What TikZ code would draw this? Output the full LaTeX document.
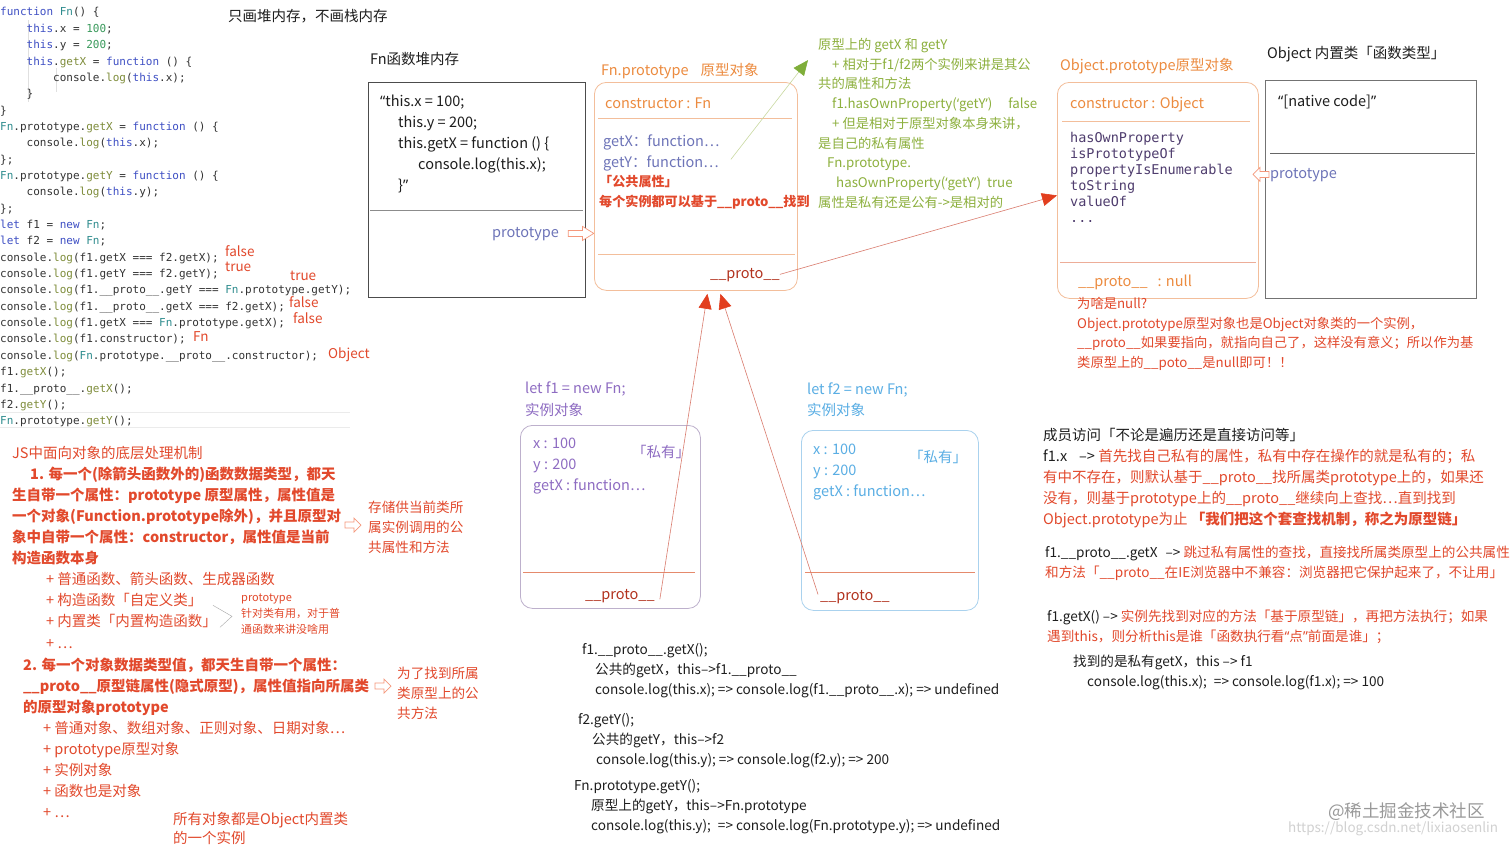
\documentclass[tikz,border=0pt]{standalone}
\usepackage{fontspec}
\setmainfont{Noto Sans CJK SC}
\setmonofont{DejaVu Sans Mono}
\newfontfamily\latinq{Noto Sans}
\usetikzlibrary{arrows.meta}

\definecolor{redtxt}{HTML}{E2492C}
\definecolor{darkred}{HTML}{B2321E}
\definecolor{orangetxt}{HTML}{EC8B3F}
\definecolor{orangeedge}{HTML}{F3BE9B}
\definecolor{greentxt}{HTML}{8DB03E}
\definecolor{greenhead}{HTML}{7FAE3A}
\definecolor{greenline}{HTML}{C9D9A0}
\definecolor{slate}{HTML}{6D74B8}
\definecolor{purpletxt}{HTML}{8E6CC2}
\definecolor{purpleedge}{HTML}{BDB0CC}
\definecolor{bluetxt}{HTML}{5AAEE4}
\definecolor{blueedge}{HTML}{AAD2EE}
\definecolor{linered}{HTML}{DA7C6E}
\definecolor{headred}{HTML}{E23E1E}
\definecolor{divred}{HTML}{E58A6C}
\definecolor{listpurple}{HTML}{4F3D6E}
\definecolor{kwc}{HTML}{3E4FC4}
\definecolor{numc}{HTML}{3A9A5C}
\definecolor{mthc}{HTML}{7E8C3A}
\definecolor{clsc}{HTML}{2E8C8E}
\definecolor{codec}{HTML}{333333}
\definecolor{textc}{HTML}{1E1E1E}

% code colouring
\newcommand{\jskw}[1]{\textcolor{kwc}{#1}}
\newcommand{\jsnum}[1]{\textcolor{numc}{#1}}
\newcommand{\jsfn}[1]{\textcolor{mthc}{#1}}
\newcommand{\jscls}[1]{\textcolor{clsc}{#1}}
\newcommand{\jsind}{\hspace*{26.5pt}}
% narrow quotes
\newcommand{\qopen}{{\latinq ‘}}
\newcommand{\qclose}{{\latinq ’}}
\newcommand{\dqopen}{{\latinq “}}
\newcommand{\dqclose}{{\latinq ”}}

\tikzset{
  txt/.style={anchor=north west, inner sep=0pt, align=left, yshift=-3pt, execute at begin node=\strut},
  bodytxt/.style={txt, font=\fontsize{14.5}{21}\selectfont},
  subtxt/.style={txt, font=\fontsize{13.6}{20}\selectfont},
  notetxt/.style={txt, font=\fontsize{13.3}{19.7}\selectfont},
  codetxt/.style={txt, font=\ttfamily\fontsize{11}{16.35}\selectfont, text=codec},
  anntxt/.style={anchor=west, inner sep=0pt, text=redtxt, font=\fontsize{13.5}{16}\selectfont},
  heapbox/.style={anchor=north west, draw=black!70, line width=0.8pt, inner sep=0pt},
  roundbox/.style={anchor=north west, rounded corners=12pt, line width=0.8pt, inner sep=0pt},
  protoline/.style={draw=linered, line width=0.6pt, -{Triangle[length=15pt,width=13pt,color=headred]}},
  hollowarrow/.pic={\draw[draw=orangeedge!80!red, line width=0.7pt, fill=white] (0,-3) -- (9,-3) -- (9,-7) -- (16,0) -- (9,7) -- (9,3) -- (0,3) -- cycle;},
}

\begin{document}
\begin{tikzpicture}[x=1pt, y=-1pt]
  \fill[white] (0,0) rectangle (1512,846);
  \useasboundingbox (0,0) rectangle (1512,846);

  % source code
  \draw[black!12] (28,20) -- (28,102);
  \draw[black!12] (56,68) -- (56,92);
  \draw[black!8] (0,412) -- (350,412);
  \draw[black!8] (0,427) -- (350,427);
  \node[codetxt] (jscode) at (0,4.4) {\jskw{function} \jscls{Fn}() \{\\
\jsind\jskw{this}.x = \jsnum{100};\\
\jsind\jskw{this}.y = \jsnum{200};\\
\jsind\jskw{this}.\jsfn{getX} = \jskw{function} () \{\\
\jsind\jsind console.\jsfn{log}(\jskw{this}.x);\\
\jsind\}\\
\}\\
\jscls{Fn}.prototype.\jsfn{getX} = \jskw{function} () \{\\
\jsind console.\jsfn{log}(\jskw{this}.x);\\
\};\\
\jscls{Fn}.prototype.\jsfn{getY} = \jskw{function} () \{\\
\jsind console.\jsfn{log}(\jskw{this}.y);\\
\};\\
\jskw{let} f1 = \jskw{new} \jscls{Fn};\\
\jskw{let} f2 = \jskw{new} \jscls{Fn};\\
console.\jsfn{log}(f1.getX === f2.getX);\\
console.\jsfn{log}(f1.getY === f2.getY);\\
console.\jsfn{log}(f1.\_\_proto\_\_.getY === \jscls{Fn}.prototype.getY);\\
console.\jsfn{log}(f1.\_\_proto\_\_.getX === f2.getX);\\
console.\jsfn{log}(f1.getX === \jscls{Fn}.prototype.getX);\\
console.\jsfn{log}(f1.constructor);\\
console.\jsfn{log}(\jscls{Fn}.prototype.\_\_proto\_\_.constructor);\\
f1.\jsfn{getX}();\\
f1.\_\_proto\_\_.\jsfn{getX}();\\
f2.\jsfn{getY}();\\
\jscls{Fn}.prototype.\jsfn{getY}();};

  \node[anntxt] (res1) at (225,251) {false};
  \node[anntxt] (res2) at (225,267) {true};
  \node[anntxt] (res3) at (290,276) {true};
  \node[anntxt] (res4) at (289,302) {false};
  \node[anntxt] (res5) at (293,318) {false};
  \node[anntxt] (res6) at (193,337) {Fn};
  \node[anntxt] (res7) at (328,355) {Object};

  \node[bodytxt, text=textc] (title) at (228,3.7) {只画堆内存，不画栈内存};

  % Fn heap
  \node[bodytxt, text=textc] (heaptitle) at (370,46.7) {Fn函数堆内存};
  \node[heapbox, minimum width=217pt, minimum height=215pt] (fnheap) at (368,82) {};
  \draw[black!45] (370,210) -- (583,210);
  \node[bodytxt, text=textc] (heapcode) at (380,91.7) {\dqopen this.x = 100;\\
\hspace*{18pt}this.y = 200;\\
\hspace*{18pt}this.getX = function () \{\\
\hspace*{38pt}console.log(this.x);\\
\hspace*{18pt}\}\dqclose};
  \node[bodytxt, text=slate] (heapprotolbl) at (492,219.7) {prototype};
  \pic[xscale=1.6] at ([xshift=9pt]heapprotolbl.east) {hollowarrow};

  % Fn.prototype
  \node[bodytxt, text=orangetxt] (fnprototitle) at (601,57.7) {Fn.prototype\hspace{12pt}原型对象};
  \node[roundbox, draw=orangeedge, minimum width=203pt, minimum height=208pt] (fnproto) at (594,82) {};
  \draw[orangeedge] (598,118) -- (792,118);
  \draw[orangeedge] (598,254) -- (795,254);
  \node[bodytxt, text=orangetxt] (fnctor) at (605,90.7) {constructor : Fn};
  \node[bodytxt, text=slate] (getx) at (603,128.7) {getX：function…};
  \node[bodytxt, text=slate] (gety) at (603,149.7) {getY：function…};
  \node[txt, font=\fontsize{13.1}{20}\selectfont, text=redtxt] (pubnote) at (599,172.1) {\textbf{「公共属性」}\\
\textbf{每个实例都可以基于\_\_proto\_\_找到}};
  \node[bodytxt, text=darkred] (fnprotoptr) at (710,260.7) {\_\_proto\_\_};

  % note on getX / getY
  \node[notetxt, text=greentxt] (greennote) at (818,35.1) {原型上的 getX 和 getY\\
\hspace*{14pt}+ 相对于f1/f2两个实例来讲是其公\\
共的属性和方法\\
\hspace*{14pt}f1.hasOwnProperty(\qopen getY\qclose)\hspace{16pt}false\\
\hspace*{14pt}+ 但是相对于原型对象本身来讲，\\
是自己的私有属性\\
\hspace*{9pt}Fn.prototype.\\
\hspace*{18pt}hasOwnProperty(\qopen getY\qclose)\hspace{6pt}true\\
属性是私有还是公有->是相对的};
  \draw[draw=greenline, line width=0.6pt, -{Triangle[length=15pt,width=13pt,color=greenhead]}] ([shift={(12pt,4pt)}]gety.east) -- ([shift={(-10pt,-22pt)}]greennote.north west);

  % Object.prototype
  \node[bodytxt, text=orangetxt] (objprototitle) at (1060,52.7) {Object.prototype原型对象};
  \node[roundbox, draw=orangeedge, minimum width=201pt, minimum height=216pt] (objproto) at (1057,82) {};
  \draw[orangeedge] (1062,121) -- (1250,121);
  \draw[divred!70] (1060,262) -- (1256,262);
  \node[bodytxt, text=orangetxt] (objctor) at (1070,90.7) {constructor : Object};
  \node[txt, font=\ttfamily\fontsize{13.5}{16}\selectfont, text=listpurple] (objmethods) at (1070,129.2) {hasOwnProperty\\
isPrototypeOf\\
propertyIsEnumerable\\
toString\\
valueOf\\
...};
  \node[bodytxt, text=orangetxt] (objnull) at (1078,268.7) {\_\_proto\_\_\hspace{10pt}: null};
  \draw[protoline] (fnprotoptr.east) -- ([yshift=-5pt]objproto.west);

  \node[notetxt, text=redtxt] (nullnote) at (1077,294.1) {为啥是null?\\
Object.prototype原型对象也是Object对象类的一个实例，\\
\_\_proto\_\_如果要指向，就指向自己了，这样没有意义；所以作为基\\
类原型上的\_\_poto\_\_是null即可！！};

  % Object
  \node[bodytxt, text=textc] (objtitle) at (1267,40.7) {Object 内置类「函数类型」};
  \node[heapbox, draw=black!55, minimum width=211pt, minimum height=218pt] (objfn) at (1265,80) {};
  \draw[black!60] (1270,153) -- (1475,153);
  \node[bodytxt, text=textc] (native) at (1278,88.7) {\dqopen[native code]\dqclose};
  \node[bodytxt, text=slate] (objprotolbl) at (1270,160.7) {prototype};
  \pic[xscale=-1] at ([xshift=-1pt]objprotolbl.west) {hollowarrow};

  % instance f1
  \node[bodytxt, text=purpletxt] (f1title) at (525,378.7) {let f1 = new Fn;\\[1pt]
实例对象};
  \node[roundbox, draw=purpleedge, minimum width=180pt, minimum height=183pt] (f1box) at (520,425) {};
  \draw[divred] (523,572) -- (695,572);
  \node[bodytxt, text=purpletxt] (f1props) at (533,434.7) {x : 100\\
y : 200\\
getX : function…};
  \node[bodytxt, text=purpletxt] (f1own) at (632,439.7) {「私有」};
  \node[bodytxt, text=darkred] (f1proto) at (585,581.7) {\_\_proto\_\_};

  % instance f2
  \node[bodytxt, text=bluetxt] (f2title) at (807,379.7) {let f2 = new Fn;\\
实例对象};
  \node[roundbox, draw=blueedge, minimum width=177pt, minimum height=180pt] (f2box) at (801,430) {};
  \draw[divred] (805,572) -- (975,572);
  \node[bodytxt, text=bluetxt] (f2props) at (813,440.7) {x : 100\\
y : 200\\
getX : function…};
  \node[bodytxt, text=bluetxt] (f2own) at (909,444.7) {「私有」};
  \node[bodytxt, text=darkred] (f2proto) at (820,582.7) {\_\_proto\_\_};

  \draw[protoline] ([shift={(5pt,-4pt)}]f1proto.east) -- ([shift={(11.5pt,-3pt)}]fnproto.south);
  \draw[protoline] ([shift={(-2pt,2pt)}]f2proto.west) -- ([shift={(24.5pt,-3pt)}]fnproto.south);

  % left notes
  \node[txt, font=\fontsize{14.5}{21.1}\selectfont, text=redtxt] (jsmech) at (12,442.7) {JS中面向对象的底层处理机制\\
\hspace*{18pt}\textbf{1. 每一个(除箭头函数外的)函数数据类型，都天}\\
\textbf{生自带一个属性：prototype 原型属性，属性值是}\\
\textbf{一个对象(Function.prototype除外)，并且原型对}\\
\textbf{象中自带一个属性：constructor，属性值是当前}\\
\textbf{构造函数本身}\\
\hspace*{34pt}+ 普通函数、箭头函数、生成器函数\\
\hspace*{34pt}+ 构造函数「自定义类」\\
\hspace*{34pt}+ 内置类「内置构造函数」\\
\hspace*{34pt}+ …};
  \node[txt, font=\fontsize{11}{16}\selectfont, text=redtxt] (classnote) at (241,590.9) {prototype\\
针对类有用，对于普\\
通函数来讲没啥用};
  \draw[black!35] ([shift={(-28pt,11pt)}]classnote.west) -- ([xshift=-9pt]classnote.west) -- ([shift={(-21pt,-11pt)}]classnote.west);

  \node[subtxt, text=redtxt] (storenote) at (368,498.1) {存储供当前类所\\
属实例调用的公\\
共属性和方法};
  \pic at ([shift={(-23pt,5pt)}]storenote.west) {hollowarrow};

  \node[txt, font=\fontsize{14.5}{21}\selectfont, text=redtxt] (objmech) at (23,654.7) {\textbf{2. 每一个对象数据类型值，都天生自带一个属性：}\\
\textbf{\_\_proto\_\_原型链属性(隐式原型)，属性值指向所属类}\\
\textbf{的原型对象prototype}\\
\hspace*{20pt}+ 普通对象、数组对象、正则对象、日期对象…\\
\hspace*{20pt}+ prototype原型对象\\
\hspace*{20pt}+ 实例对象\\
\hspace*{20pt}+ 函数也是对象\\
\hspace*{20pt}+ …};
  \node[subtxt, text=redtxt] (findnote) at (397,664.1) {为了找到所属\\
类原型上的公\\
共方法};
  \pic at ([shift={(-22pt,10pt)}]findnote.west) {hollowarrow};
  \node[txt, font=\fontsize{14.5}{18.5}\selectfont, text=redtxt] (allobj) at (173,809.3) {所有对象都是Object内置类\\
的一个实例};

  % member access
  \node[bodytxt, text=textc] (lookup) at (1043,424.7) {成员访问「不论是遍历还是直接访问等」\\
f1.x\hspace*{12pt}–> \textcolor{redtxt}{首先找自己私有的属性，私有中存在操作的就是私有的；私}\\
\textcolor{redtxt}{有中不存在，则默认基于\_\_proto\_\_找所属类prototype上的，如果还}\\
\textcolor{redtxt}{没有，则基于prototype上的\_\_proto\_\_继续向上查找…直到找到}\\
\textcolor{redtxt}{Object.prototype为止 \textbf{「我们把这个套查找机制，称之为原型链」}}};
  \node[subtxt, text=textc] (protoskip) at (1045,543.1) {f1.\_\_proto\_\_.getX\hspace*{8pt}–> \textcolor{redtxt}{跳过私有属性的查找，直接找所属类原型上的公共属性}\\
\textcolor{redtxt}{和方法「\_\_proto\_\_在IE浏览器中不兼容：浏览器把它保护起来了，不让用」}};
  \node[subtxt, text=textc] (getxcall) at (1047,607.1) {f1.getX() –> \textcolor{redtxt}{实例先找到对应的方法「基于原型链」，再把方法执行；如果}\\
\textcolor{redtxt}{遇到this，则分析this是谁「函数执行看\dqopen 点\dqclose 前面是谁」；}};
  \node[subtxt, text=textc] (getxres) at (1073,652.1) {找到的是私有getX，this –> f1\\
\hspace*{14pt}console.log(this.x);\hspace{4pt} => console.log(f1.x); => 100};

  % calls
  \node[subtxt, text=textc] (callone) at (582,640.1) {f1.\_\_proto\_\_.getX();\\
\hspace*{13pt}公共的getX，this–>f1.\_\_proto\_\_\\
\hspace*{13pt}console.log(this.x); => console.log(f1.\_\_proto\_\_.x); => undefined};
  \node[subtxt, text=textc] (calltwo) at (578,710.1) {f2.getY();\\
\hspace*{14pt}公共的getY，this–>f2\\
\hspace*{18pt}console.log(this.y); => console.log(f2.y); => 200};
  \node[subtxt, text=textc] (callthree) at (574,776.1) {Fn.prototype.getY();\\
\hspace*{17pt}原型上的getY，this–>Fn.prototype\\
\hspace*{17pt}console.log(this.y);\hspace{4pt} => console.log(Fn.prototype.y); => undefined};

  \node[anchor=west, inner sep=0pt, text=black!40, font=\fontsize{17.5}{20}\selectfont] (wm) at (1328,812) {@稀土掘金技术社区};
  \node[anchor=west, inner sep=0pt, text=black!18, font=\fontsize{13.5}{16}\selectfont] (wmurl) at (1288,829) {https://blog.csdn.net/lixiaosenlin};
\end{tikzpicture}
\end{document}
